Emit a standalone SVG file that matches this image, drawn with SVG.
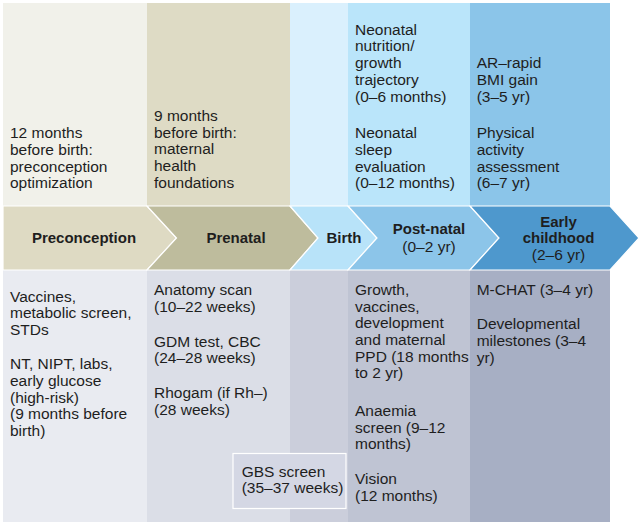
<svg xmlns="http://www.w3.org/2000/svg" width="642" height="525" viewBox="0 0 642 525">
<style>
text{font-family:"Liberation Sans",Arial,sans-serif;font-size:15.5px;fill:#1e1e1e}
.b{font-weight:bold;font-size:15px}
.c{text-anchor:middle}
.chev{stroke:#ffffff;stroke-width:1.2;stroke-linejoin:miter}
</style>
<rect x="0" y="0" width="642" height="525" fill="#ffffff"/>
<g id="col-preconception">
<rect x="3" y="3" width="144" height="203" fill="#f1f1ea"/>
<rect x="3" y="270" width="144" height="252" fill="#e9ebf1"/>
<text x="10" y="138">12 months</text>
<text x="10" y="155">before birth:</text>
<text x="10" y="171.7">preconception</text>
<text x="10" y="188.3">optimization</text>
<text x="10" y="301.5">Vaccines,</text>
<text x="10" y="318.2">metabolic screen,</text>
<text x="10" y="335">STDs</text>
<text x="10" y="369.3">NT, NIPT, labs,</text>
<text x="10" y="386">early glucose</text>
<text x="10" y="402.7">(high-risk)</text>
<text x="10" y="419.3">(9 months before</text>
<text x="10" y="436">birth)</text>
</g>
<g id="col-prenatal">
<rect x="147" y="3" width="143" height="203" fill="#dedbc5"/>
<rect x="147" y="270" width="143" height="252" fill="#dbdee7"/>
<text x="154" y="120.7">9 months</text>
<text x="154" y="137.5">before birth:</text>
<text x="154" y="154.2">maternal</text>
<text x="154" y="171">health</text>
<text x="154" y="188">foundations</text>
<text x="154" y="295">Anatomy scan</text>
<text x="154" y="311.7">(10–22 weeks)</text>
<text x="154" y="346.7">GDM test, CBC</text>
<text x="154" y="363.3">(24–28 weeks)</text>
<text x="154" y="398.3">Rhogam (if Rh–)</text>
<text x="154" y="415">(28 weeks)</text>
</g>
<g id="col-birth">
<rect x="290" y="3" width="58" height="203" fill="#daf0fd"/>
<rect x="290" y="270" width="58" height="252" fill="#cbcedb"/>
</g>
<g id="col-postnatal">
<rect x="348" y="3" width="122" height="203" fill="#bae5fa"/>
<rect x="348" y="270" width="122" height="252" fill="#bfc4d3"/>
<text x="355" y="34.5">Neonatal</text>
<text x="355" y="51.3">nutrition/</text>
<text x="355" y="68">growth</text>
<text x="355" y="84.8">trajectory</text>
<text x="355" y="101.6">(0–6 months)</text>
<text x="355" y="138.3">Neonatal</text>
<text x="355" y="155">sleep</text>
<text x="355" y="171.7">evaluation</text>
<text x="355" y="188.3">(0–12 months)</text>
<text x="355" y="295">Growth,</text>
<text x="355" y="311.7">vaccines,</text>
<text x="355" y="328.3">development</text>
<text x="355" y="345">and maternal</text>
<text x="355" y="361.7">PPD (18 months</text>
<text x="355" y="378.3">to 2 yr)</text>
<text x="355" y="416">Anaemia</text>
<text x="355" y="432.7">screen (9–12</text>
<text x="355" y="449.3">months)</text>
<text x="355" y="484.3">Vision</text>
<text x="355" y="501">(12 months)</text>
</g>
<g id="col-early-childhood">
<rect x="470" y="3" width="140" height="203" fill="#8bc5e9"/>
<rect x="470" y="270" width="140" height="252" fill="#a7afc4"/>
<text x="476.7" y="68.3">AR–rapid</text>
<text x="476.7" y="85">BMI gain</text>
<text x="476.7" y="101.7">(3–5 yr)</text>
<text x="476.7" y="138.3">Physical</text>
<text x="476.7" y="155">activity</text>
<text x="476.7" y="171.7">assessment</text>
<text x="476.7" y="188.3">(6–7 yr)</text>
<text x="476.7" y="295">M-CHAT (3–4 yr)</text>
<text x="476.7" y="329.3">Developmental</text>
<text x="476.7" y="346">milestones (3–4</text>
<text x="476.7" y="362.7">yr)</text>
</g>
<g id="gbs-screen">
<rect x="233" y="453.5" width="113" height="55" fill="#d4d7e4" stroke="#ffffff" stroke-width="1.2"/>
<text x="241.7" y="476.7">GBS screen</text>
<text x="241.7" y="493.3">(35–37 weeks)</text>
</g>
<g id="timeline">
<g id="stage-preconception">
<polygon class="chev" points="3,206 147,206 176.5,238 147,270 3,270" fill="#dedac3"/>
<text class="b c" x="84" y="243.3">Preconception</text>
</g>
<g id="stage-prenatal">
<polygon class="chev" points="147,206 290,206 318,238 290,270 147,270 176.5,238" fill="#bebc9d"/>
<text class="b c" x="236" y="243.3">Prenatal</text>
</g>
<g id="stage-birth">
<polygon class="chev" points="290,206 348,206 377,238 348,270 290,270 318,238" fill="#b8e3f9"/>
<text class="b c" x="344" y="243.3">Birth</text>
</g>
<g id="stage-postnatal">
<polygon class="chev" points="348,206 470,206 499,238 470,270 348,270 377,238" fill="#8cc5e9"/>
<text class="b c" x="429" y="234.3">Post-natal</text>
<text class="c" x="429" y="251.7">(0–2 yr)</text>
</g>
<g id="stage-early-childhood">
<polygon class="chev" points="470,206 610,206 639,238 610,270 470,270 499,238" fill="#4e98cd"/>
<text class="b c" x="558.5" y="226.7">Early</text>
<text class="b c" x="558.5" y="242.9">childhood</text>
<text class="c" x="558.5" y="260">(2–6 yr)</text>
</g>
</g>
</svg>
